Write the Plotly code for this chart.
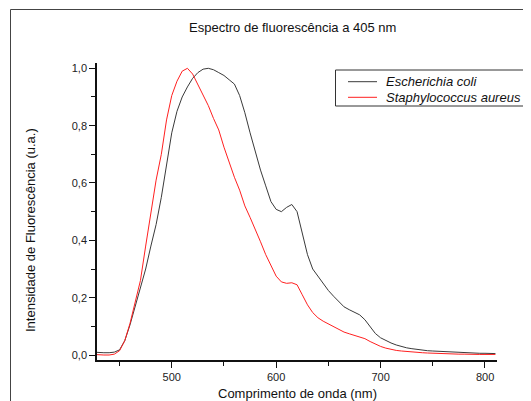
import plotly.graph_objects as go

# ---- data ----
wavelength = [425, 430, 435, 440, 445, 450, 455, 460, 465, 470, 475, 480, 485, 490, 495,
              500, 505, 510, 515, 520, 525, 530, 535, 540, 545, 550, 555, 560, 565, 570,
              575, 580, 585, 590, 595, 600, 605, 610, 615, 620, 625, 630, 635, 640, 645,
              650, 655, 660, 665, 670, 675, 680, 685, 690, 695, 700, 705, 710, 715, 720,
              725, 730, 735, 740, 745, 750, 755, 760, 765, 770, 775, 780, 785, 790, 795,
              800, 805, 810]

e_coli = [0.010, 0.008, 0.008, 0.008, 0.010, 0.018, 0.050, 0.105, 0.170, 0.235, 0.300, 0.380, 0.455, 0.550, 0.665,
          0.775, 0.850, 0.900, 0.935, 0.965, 0.985, 0.997, 1.000, 0.995, 0.985, 0.975, 0.960, 0.945, 0.905, 0.845,
          0.775, 0.705, 0.645, 0.590, 0.535, 0.508, 0.500, 0.515, 0.525, 0.500, 0.430, 0.350, 0.300, 0.275, 0.250,
          0.225, 0.205, 0.185, 0.168, 0.158, 0.150, 0.140, 0.123, 0.098, 0.075, 0.060, 0.050, 0.042, 0.035, 0.029,
          0.025, 0.022, 0.019, 0.017, 0.015, 0.014, 0.013, 0.012, 0.010, 0.009, 0.008, 0.008, 0.007, 0.007, 0.006,
          0.006, 0.005, 0.005]

s_aureus = [0.002, 0.000, 0.000, 0.000, 0.003, 0.015, 0.050, 0.110, 0.190, 0.260, 0.380, 0.500, 0.610, 0.700, 0.820,
            0.905, 0.955, 0.990, 1.000, 0.980, 0.945, 0.910, 0.870, 0.825, 0.785, 0.725, 0.670, 0.620, 0.575, 0.520,
            0.480, 0.440, 0.395, 0.350, 0.310, 0.275, 0.255, 0.250, 0.252, 0.245, 0.210, 0.175, 0.148, 0.130, 0.118,
            0.108, 0.098, 0.089, 0.080, 0.074, 0.069, 0.064, 0.057, 0.047, 0.038, 0.030, 0.024, 0.019, 0.016, 0.014,
            0.012, 0.011, 0.010, 0.008, 0.007, 0.006, 0.005, 0.004, 0.004, 0.003, 0.003, 0.003, 0.002, 0.002, 0.002,
            0.002, 0.002, 0.002]

series_names = ["Escherichia coli", "Staphylococcus aureus"]
series_colors = ["#3a3a3a", "#ff2020"]

x_tick_values = [500, 600, 700, 800]

title_text = "Espectro de fluorescência a 405 nm"
x_title = "Comprimento de onda (nm)"
y_title = "Intensidade de Fluorescência (u.a.)"

# ---- layout geometry ----
# the page body keeps its default 8px margin, so the figure is offset by (8, 8)
OFF = 8
W, H = 531, 401
PL, PR, PT, PB = 97, 497, 63, 360          # plot-area edges in window pixels
ML, MT = PL - OFF, PT - OFF
MR, MB = W - (PR - OFF), H - (PB - OFF)
PW, PH = PR - PL, PB - PT


def px(x):
    return (x - PL) / PW


def py(y):
    return 1 - (y - PT) / PH


FONT = "Liberation Sans, Arial, sans-serif"

fig = go.Figure()
for name, vals, col in zip(series_names, [e_coli, s_aureus], series_colors):
    fig.add_trace(go.Scatter(x=wavelength, y=vals, mode="lines", name=name,
                             line=dict(color=col, width=1),
                             showlegend=False))

axis_common = dict(showgrid=False, zeroline=False, showline=True, linecolor="#111", linewidth=1.5,
                   ticks="outside", ticklen=6, tickwidth=1.2, tickcolor="#111",
                   tickfont=dict(family=FONT, size=11, color="#222"), mirror=False,
                   automargin=False, ticklabeloverflow="allow")

# the last tick keeps its mark; its label is written once, as an annotation on the x scale
x_tick_text = [str(v) for v in x_tick_values[:-1]] + [""]

fig.update_layout(
    width=W, height=H,
    margin=dict(l=ML, r=MR, t=MT, b=MB, pad=0),
    paper_bgcolor="white", plot_bgcolor="white",
    separators=",.",
    xaxis=dict(range=[428.4, 811.5], tickvals=x_tick_values, ticktext=x_tick_text,
               minor=dict(dtick=50, tick0=0, ticks="outside", ticklen=4, tickcolor="#111", tickwidth=1),
               **axis_common),
    yaxis=dict(range=[-0.0174, 1.0185], dtick=0.2, tick0=0, tickformat=".1f",
               minor=dict(dtick=0.1, tick0=0, ticks="outside", ticklen=4, tickcolor="#111", tickwidth=1),
               **axis_common),
    showlegend=False,
)

fig.add_annotation(text=str(x_tick_values[-1]), xref="x", x=x_tick_values[-1], yref="paper", y=py(377),
                   showarrow=False, font=dict(family=FONT, size=11, color="#222"),
                   xanchor="center", yanchor="middle")

# page frame
fig.add_shape(type="rect", xref="paper", yref="paper",
              x0=px(10.5), y0=py(470), x1=px(570), y1=py(9.5),
              line=dict(color="#444", width=1), fillcolor="rgba(0,0,0,0)", layer="below")

# titles
fig.add_annotation(text=title_text, xref="paper", yref="paper", x=px(292), y=py(27),
                   showarrow=False, font=dict(family=FONT, size=13, color="#111"),
                   xanchor="center", yanchor="middle")
fig.add_annotation(text=x_title, xref="paper", yref="paper", x=px(297), y=py(393),
                   showarrow=False, font=dict(family=FONT, size=13, color="#111"),
                   xanchor="center", yanchor="middle")
fig.add_annotation(text=y_title, xref="paper", yref="paper", x=px(30), y=py(230),
                   showarrow=False, textangle=-90, font=dict(family=FONT, size=13, color="#111"),
                   xanchor="center", yanchor="middle")

# legend (drawn box)
fig.add_shape(type="rect", xref="paper", yref="paper",
              x0=px(335.5), y0=py(106), x1=px(560), y1=py(70),
              line=dict(color="#333", width=1), fillcolor="white")
for i, (name, col) in enumerate(zip(series_names, series_colors)):
    yc = 81.7 + i * 15.6
    fig.add_shape(type="line", xref="paper", yref="paper",
                  x0=px(348), x1=px(377), y0=py(yc), y1=py(yc),
                  line=dict(color=col, width=1))
    fig.add_annotation(text="<i>" + name + "</i>", xref="paper", yref="paper",
                       x=px(384), y=py(yc), showarrow=False,
                       font=dict(family=FONT, size=13, color="#111"),
                       xanchor="left", yanchor="middle")

fig.write_html("out.html", config={"displayModeBar": False})
